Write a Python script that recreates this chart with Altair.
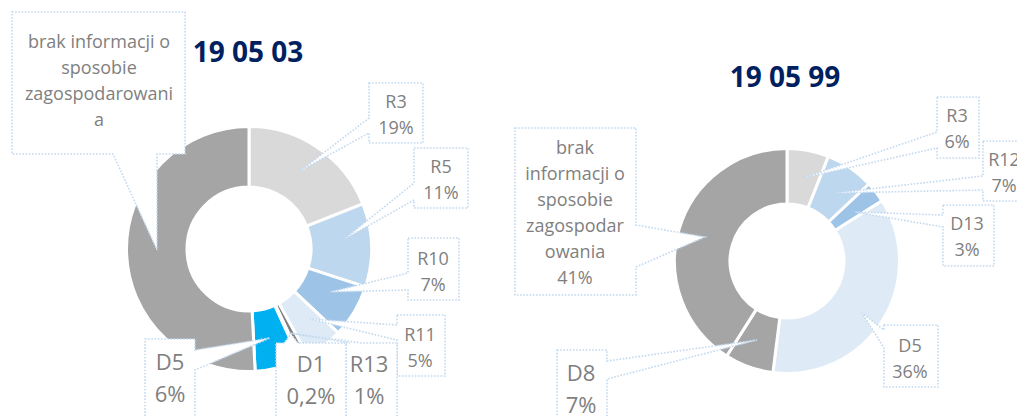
import altair as alt
import pandas as pd

# ---------------- data ----------------
titles = ["19 05 03", "19 05 99"]

left_names = ["R3", "R5", "R10", "R11", "R13", "D1", "D5",
              "brak informacji o sposobie zagospodarowania"]
left_values = [19, 11, 7, 5, 1, 0.2, 6, 50.8]
left_show_pct = [True, True, True, True, True, True, True, False]

right_names = ["R3", "R12", "D13", "D5", "D8",
               "brak informacji o sposobie zagospodarowania"]
right_values = [6, 7, 3, 36, 7, 41]
right_show_pct = [True, True, True, True, True, True]

# ---------------- style / layout ----------------
left_colors = ["#D9D9D9", "#BDD7EE", "#9DC3E6", "#DEEBF7", "#7F7F7F", "#595959", "#00B0F0", "#A5A5A5"]
right_colors = ["#D9D9D9", "#BDD7EE", "#9DC3E6", "#DEEBF7", "#A5A5A5", "#A5A5A5"]

# how each name is wrapped inside its callout
left_wrap = [["R3"], ["R5"], ["R10"], ["R11"], ["R13"], ["D1"], ["D5"],
             ["brak informacji o", "sposobie", "zagospodarowani", "a"]]
right_wrap = [["R3"], ["R12"], ["D13"], ["D5"], ["D8"],
              ["brak", "informacji o", "sposobie", "zagospodar", "owania"]]

# label anchor (page px: centre x, first baseline y) and size group
left_label_pos = [(396, 108), (441, 173), (433, 265), (420, 341), (369, 372), (311, 372), (170, 370), (99, 48)]
left_label_big = [False, False, False, False, True, True, True, False]
right_label_pos = [(957, 122), (1004, 166), (967, 230), (910, 352), (581, 381), (575, 154)]
right_label_big = [False, False, False, False, True, False]

# callout boxes: (x0, y0, x1, y1), edge, base point a, base point b, tip
left_callouts = [
    ((369, 83, 423, 143), "left", 118, 133, (300, 171)),
    ((414, 148, 468, 208), "left", 183, 200, (343, 240)),
    ((408, 238, 459, 300), "left", 273, 290, (330, 292)),
    ((397, 315, 445, 376), "left", 325, 340, (310, 319)),
    ((346, 343, 397, 430), "top", 350, 362, (289, 333)),
    ((276, 343, 346, 430), "top", 284, 298, (291, 334)),
    ((145, 339, 195, 430), "right", 350, 370, (270, 338)),
    ((12, 12, 185, 154), "bottom", 113, 157, (157, 250)),
]
right_callouts = [
    ((937, 97, 979, 158), "left", 132, 148, (803, 178)),
    ((983, 141, 1045, 201), "left", 176, 190, (835, 193)),
    ((943, 205, 994, 266), "left", 215, 227, (855, 212)),
    ((884, 325, 938, 387), "left", 330, 348, (862, 313)),
    ((557, 350, 607, 430), "right", 361, 379, (757, 340)),
    ((515, 128, 636, 295), "right", 225, 267, (705, 237)),
]

LEFT_CENTER = (249, 249)
RIGHT_CENTER = (787, 261)
LEFT_R = (62, 122.5)
RIGHT_R = (57, 112.5)
M = 8                      # page margin
W, H = 1009, 408
TEXT_COLOR = "#7F7F7F"
TITLE_COLOR = "#002060"
BORDER_COLOR = "#C3D9EF"
FONT = "Open Sans"
title_pos = [(248, 62), (785, 87)]


def pct(v):
    return (f"{v:g}".replace(".", ",")) + "%"


def donut(names, values, colors, center, radii):
    df = pd.DataFrame({"name": names, "value": values, "color": colors,
                       "idx": list(range(len(names)))})
    return alt.Chart(df).mark_arc(
        innerRadius=radii[0], outerRadius=radii[1], stroke="white", strokeWidth=3
    ).encode(
        theta=alt.Theta("value:Q", stack=True),
        order=alt.Order("idx:Q", sort="ascending"),
        color=alt.Color("color:N", scale=None),
        x=alt.value(center[0] - M),
        y=alt.value(center[1] - M),
    )


def callout_ring(box, edge, a, b, tip):
    x0, y0, x1, y1 = box
    lo, hi = min(a, b), max(a, b)
    t = list(tip)
    ring = [[x0, y0]]
    if edge == "top":
        ring += [[lo, y0], t, [hi, y0]]
    ring += [[x1, y0]]
    if edge == "right":
        ring += [[x1, lo], t, [x1, hi]]
    ring += [[x1, y1]]
    if edge == "bottom":
        ring += [[hi, y1], t, [lo, y1]]
    ring += [[x0, y1]]
    if edge == "left":
        ring += [[x0, hi], t, [x0, lo]]
    ring += [[x0, y0]]
    return ring


features = []
for c in left_callouts + right_callouts:
    features.append({"type": "Feature", "properties": {},
                     "geometry": {"type": "Polygon", "coordinates": [callout_ring(*c)]}})

callouts = alt.Chart(alt.Data(values=features)).mark_geoshape(
    fill="white", stroke=BORDER_COLOR, strokeWidth=1.6, strokeDash=[1.6, 1.6]
).project(type="identity", scale=1, translate=[-M, -M])

# labels
rows = []
for names, values, show, wrap, pos, big in [
    (left_names, left_values, left_show_pct, left_wrap, left_label_pos, left_label_big),
    (right_names, right_values, right_show_pct, right_wrap, right_label_pos, right_label_big),
]:
    for i in range(len(names)):
        lines = list(wrap[i])
        if show[i]:
            lines.append(pct(values[i]))
        rows.append({"x": pos[i][0], "y": pos[i][1], "text": "\n".join(lines), "big": big[i]})
lab = pd.DataFrame(rows)

xs = alt.Scale(domain=[M, M + W], range=[0, W], zero=False, nice=False)
ys = alt.Scale(domain=[M, M + H], range=[0, H], zero=False, nice=False)


def text_layer(df, size, lh, **kw):
    return alt.Chart(df).mark_text(
        lineBreak="\n", lineHeight=lh, font=FONT, fontSize=size, color=kw.get("color", TEXT_COLOR),
        fontWeight=kw.get("weight", "normal"), align="center", baseline="alphabetic"
    ).encode(
        x=alt.X("x:Q", scale=xs, axis=None),
        y=alt.Y("y:Q", scale=ys, axis=None),
        text="text:N",
    )


small = text_layer(lab[~lab["big"]], 18, 26)
large = text_layer(lab[lab["big"]], 22, 32)
tdf = pd.DataFrame({"x": [p[0] for p in title_pos], "y": [p[1] for p in title_pos], "text": titles})
title_layer = text_layer(tdf, 28, 30, color=TITLE_COLOR, weight="bold")

chart = alt.layer(
    donut(left_names, left_values, left_colors, LEFT_CENTER, LEFT_R),
    donut(right_names, right_values, right_colors, RIGHT_CENTER, RIGHT_R),
    callouts, small, large, title_layer,
).resolve_scale(theta="independent").properties(
    width=W, height=H, padding=0, autosize=alt.AutoSizeParams(type="none"),
    background="white",
).configure_view(stroke=None)

chart.save("out.html", embed_options={"renderer": "svg", "actions": False})
